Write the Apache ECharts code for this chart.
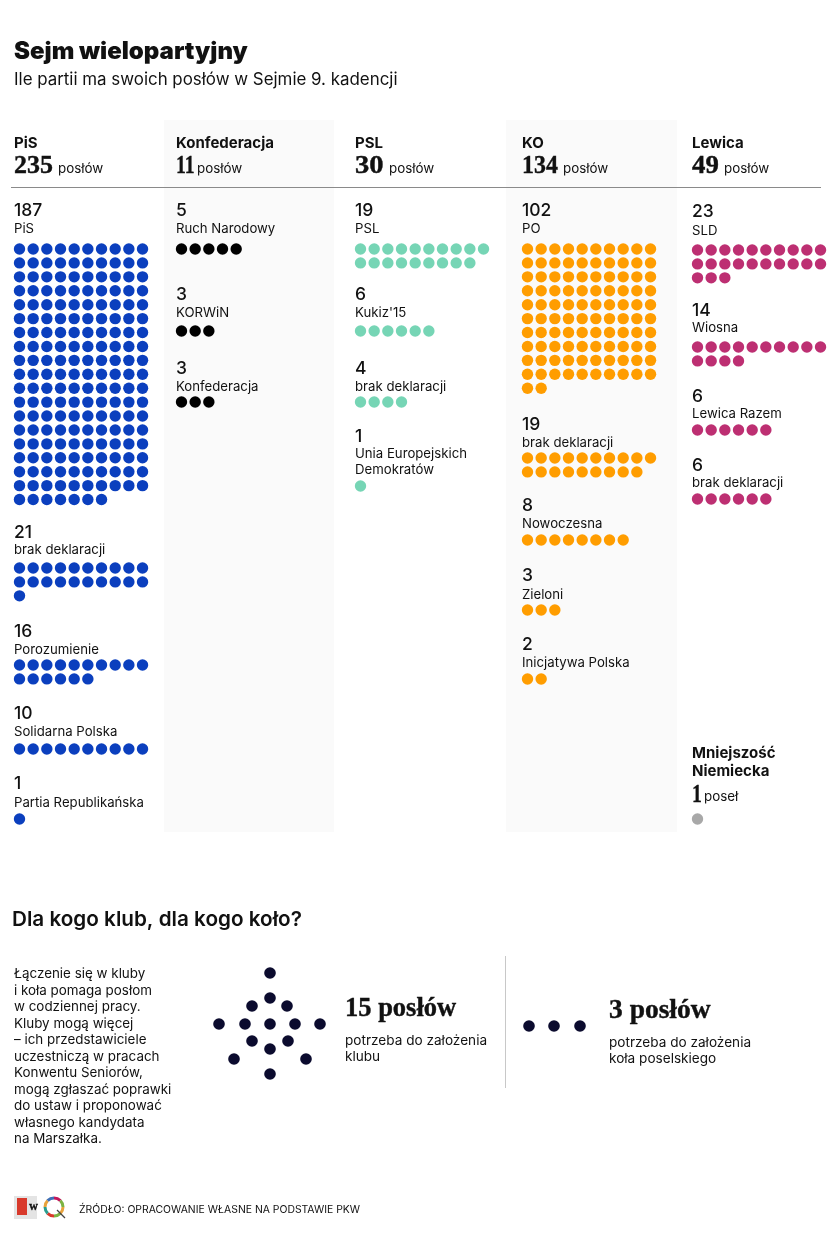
<!DOCTYPE html>
<html><head><meta charset="utf-8">
<style>html,body{margin:0;padding:0;background:#fff}#c{width:835px;height:1256px}</style>
<script src="https://cdn.jsdelivr.net/npm/echarts@6/dist/echarts.min.js"></script>
</head><body><div id="c"></div>
<script>
// ---------- data ----------
const clubNames  = ['PiS','Konfederacja','PSL','KO','Lewica'];
const clubTotals = [235,11,30,134,49];
const clubUnit   = 'posłów';
const pisGroups  = ['PiS','brak deklaracji','Porozumienie','Solidarna Polska','Partia Republikańska'];
const pisValues  = [187,21,16,10,1];
const konfGroups = ['Ruch Narodowy','KORWiN','Konfederacja'];
const konfValues = [5,3,3];
const pslGroups  = ['PSL',"Kukiz'15",'brak deklaracji','Unia Europejskich\nDemokratów'];
const pslValues  = [19,6,4,1];
const koGroups   = ['PO','brak deklaracji','Nowoczesna','Zieloni','Inicjatywa Polska'];
const koValues   = [102,19,8,3,2];
const lewGroups  = ['SLD','Wiosna','Lewica Razem','brak deklaracji'];
const lewValues  = [23,14,6,6];
const minorityName = 'Mniejszość\nNiemiecka';
const minorityValue = 1;
// the two pictograms, in seats around the figure's centre (px offsets)
const club15X = [0,0,-18,17,-51,-25,0,25,50,-18,18,0,-36,36,0];
const club15Y = [-51,-26,-18,-18,0,0,0,0,0,17,17,25,35,35,50];
const circle3X = [-25,0,26];
const circle3Y = [0,0,0];

// ---------- layout ----------
const PER_ROW = 10, PITCH_X = 13.67, PITCH_Y = 13.92, DOT = 11.4;
const columns = [
 {x:14, color:'#0b3fbe', groups:pisGroups, values:pisValues,
  numY:[210,532,631,713,783], labY:[228,549,649,731,802], dotY:[249,568,665,749,819], totX:58, totScale:1},
 {x:176,color:'#000000', groups:konfGroups, values:konfValues,
  numY:[210,294,368], labY:[228,312,386], dotY:[249,331,402], totX:197, totScale:0.76},
 {x:355,color:'#76d5b5', groups:pslGroups, values:pslValues,
  numY:[210,294,368,436], labY:[228,312,386,453], dotY:[249,331,402,486], totX:389, totScale:1.1},
 {x:522,color:'#ff9d00', groups:koGroups, values:koValues,
  numY:[210,424,505,575,644], labY:[228,442,523,594,662], dotY:[249,458,540,610,679], totX:563, totScale:0.92},
 {x:692,color:'#bd2f72', groups:lewGroups, values:lewValues,
  numY:[211,310,396,465], labY:[230,327,413,482], dotY:[250,347,430,499], totX:724, totScale:1.03}
];
const SANS = 'Inter, "Noto Sans", sans-serif';
const SERIF = '"Liberation Serif", serif';
const g = [];
function txt(x,y,text,size,weight,family,scaleX){
  const isSerif = family===SERIF;
  g.push({type:'text',z:10,silent:true,x:x,y:y,scaleX:scaleX||1,style:{text:text,font:(weight||400)+' '+size+'px '+(family||SANS),
    fill:'#111',stroke:isSerif?'#111':null,lineWidth:isSerif?0.4:0,textVerticalAlign:'middle',textAlign:'left'}});
}
// column shading and rule
[[164,170],[506,171]].forEach(b=>g.push({type:'rect',z:0,silent:true,shape:{x:b[0],y:120,width:b[1],height:712},style:{fill:'#fafafa'}}));
g.push({type:'line',z:1,silent:true,shape:{x1:11,y1:187.5,x2:821,y2:187.5},style:{stroke:'#8a8a8a',lineWidth:1}});
g.push({type:'line',z:1,silent:true,shape:{x1:505.5,y1:956,x2:505.5,y2:1088},style:{stroke:'#c8c8c8',lineWidth:1}});

txt(14,52,'Sejm wielopartyjny',24,900);
txt(14,80,'Ile partii ma swoich posłów w Sejmie 9. kadencji',16.9,400);

const series = [];
function dots(startX,startY,n){
  const d=[];
  for(let i=0;i<n;i++) d.push([startX+(i%PER_ROW)*PITCH_X, startY+Math.floor(i/PER_ROW)*PITCH_Y]);
  return d;
}
columns.forEach((c,ci)=>{
  txt(c.x,143,clubNames[ci],15,700);
  txt(c.x,166,String(clubTotals[ci]),26,700,SERIF,c.totScale);
  txt(c.totX,169,clubUnit,13.4,400);
  let pts=[];
  c.groups.forEach((name,i)=>{
    txt(c.x,c.numY[i]+1,String(c.values[i]),17.5,500);
    name.split('\n').forEach((l,k)=>txt(c.x,c.labY[i]+1+k*16,l,13.2,400));
    pts=pts.concat(dots(c.x+5.5,c.dotY[i],c.values[i]));
  });
  series.push({name:clubNames[ci],type:'scatter',silent:true,symbol:'circle',symbolSize:DOT,
    itemStyle:{color:c.color,opacity:1},data:pts});
});
// minority
minorityName.split('\n').forEach((l,k)=>txt(692,753+k*18,l,15,700));
txt(692,795,String(minorityValue),26,700,SERIF,0.76);
txt(704,797,'poseł',13.4,400);
series.push({name:'Mniejszość Niemiecka',type:'scatter',silent:true,symbolSize:DOT,itemStyle:{color:'#a8a8a8',opacity:1},
  data:dots(697.5,819,minorityValue)});

// lower section
txt(12,920,'Dla kogo klub, dla kogo koło?',20.7,600);
['Łączenie się w kluby','i koła pomaga posłom','w codziennej pracy.','Kluby mogą więcej','– ich przedstawiciele',
 'uczestniczą w pracach','Konwentu Seniorów,','mogą zgłaszać poprawki','do ustaw i proponować','własnego kandydata','na Marszałka.']
 .forEach((l,i)=>txt(14,974+i*16.5,l,13.4,400));
series.push({name:'klub',type:'scatter',silent:true,symbolSize:11.6,itemStyle:{color:'#0b0b2e',opacity:1},
  data:club15X.map((x,i)=>[270+x,1024+club15Y[i]])});
series.push({name:'koło',type:'scatter',silent:true,symbolSize:11.6,itemStyle:{color:'#0b0b2e',opacity:1},
  data:circle3X.map((x,i)=>[554+x,1026+circle3Y[i]])});
txt(345,1009,'15 posłów',26.5,700,SERIF);
txt(345,1041,'potrzeba do założenia',13.6,400);
txt(345,1057,'klubu',13.6,400);
txt(609,1011,'3 posłów',27.5,700,SERIF);
txt(609,1043,'potrzeba do założenia',13.6,400);
txt(609,1059,'koła poselskiego',13.6,400);

// source + logos
g.push({type:'rect',z:1,silent:true,shape:{x:14,y:1196,width:23,height:23},style:{fill:'#e4e4e4'}});
g.push({type:'rect',z:2,silent:true,shape:{x:17,y:1198,width:10,height:17},style:{fill:'#d8392b'}});
txt(29,1208,'W',9,800,SERIF);
['#e8a33d','#7cb342','#d8392b','#2a9d8f','#e8a33d','#3f6fb5','#c2185b','#7cb342'].forEach((col,i)=>{
  g.push({type:'arc',z:2,silent:true,shape:{cx:54,cy:1207,r:9,startAngle:i*Math.PI/4,endAngle:(i+1)*Math.PI/4},
    style:{stroke:col,lineWidth:3,fill:null}});
});
g.push({type:'line',z:3,silent:true,shape:{x1:57,y1:1210,x2:65,y2:1218},style:{stroke:'#444',lineWidth:1.2}});
txt(79,1210,'ŹRÓDŁO: OPRACOWANIE WŁASNE NA PODSTAWIE PKW',10.4,400);

const chart = echarts.init(document.getElementById('c'),null,{renderer:'canvas'});
chart.setOption({
  animation:false,
  backgroundColor:'#fff',
  grid:{left:0,top:0,width:835,height:1256},
  xAxis:{type:'value',min:0,max:835,show:false},
  yAxis:{type:'value',min:0,max:1256,inverse:true,show:false},
  graphic:g,
  series:series
});
</script></body></html>
